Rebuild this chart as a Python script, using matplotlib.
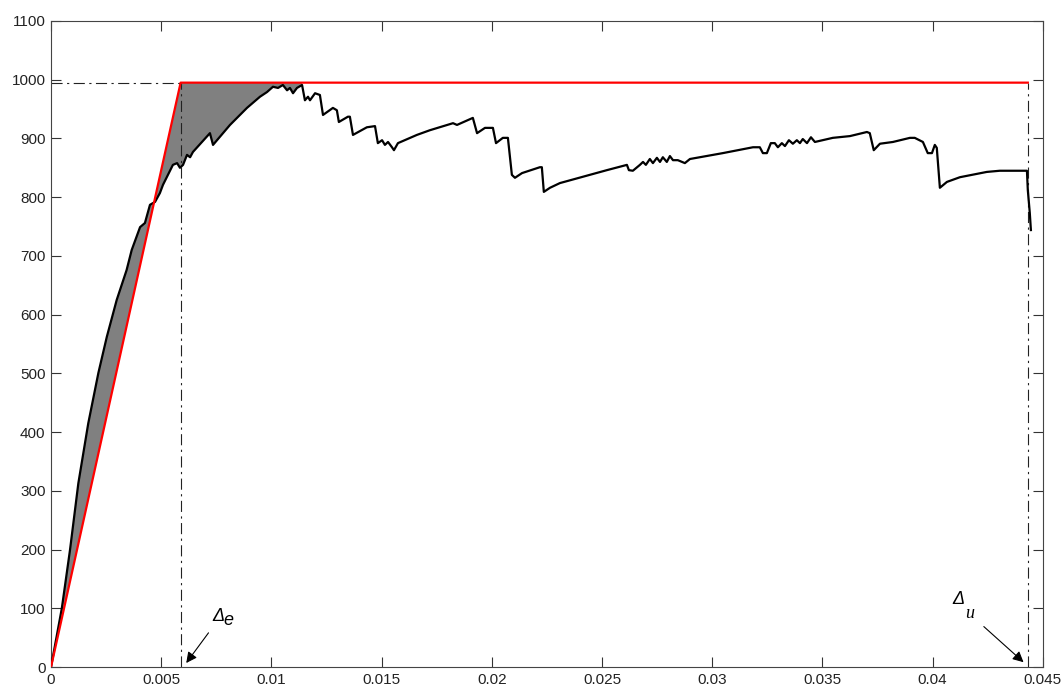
#%%### Imports
import numpy as np
import matplotlib.pyplot as plt

#%%### Data
disp = [
    0.0, 0.00049, 0.00086, 0.00124, 0.00169, 0.00215, 0.00253, 0.00298, 0.00343, 0.00366,
    0.00404, 0.00426, 0.00449, 0.00472, 0.00494, 0.00508, 0.00553, 0.00572, 0.00585, 0.00599,
    0.00617, 0.00631, 0.00644, 0.00721, 0.00735, 0.00753, 0.00812, 0.00889, 0.00948, 0.0098,
    0.01007, 0.0103, 0.01052, 0.01071, 0.01084, 0.01098, 0.01116, 0.01139, 0.01152, 0.01166,
    0.01175, 0.01198, 0.0122, 0.01234, 0.01279, 0.01297, 0.01306, 0.01347, 0.01356, 0.0137,
    0.01433, 0.0147, 0.01483, 0.01502, 0.01515, 0.01529, 0.01547, 0.01556, 0.01574, 0.0166,
    0.01719, 0.01824, 0.01842, 0.01914, 0.01933, 0.01969, 0.02005, 0.02019, 0.0205, 0.02073,
    0.02091, 0.02105, 0.02137, 0.02218, 0.02227, 0.02236, 0.02264, 0.02309, 0.02445, 0.02522,
    0.02613, 0.02622, 0.0264, 0.02672, 0.02686, 0.02699, 0.02717, 0.02731, 0.02749, 0.02763,
    0.02776, 0.02794, 0.02808, 0.02822, 0.02844, 0.02876, 0.02899, 0.03048, 0.03185, 0.03216,
    0.0323, 0.03248, 0.03266, 0.03284, 0.03298, 0.03316, 0.0333, 0.03348, 0.03366, 0.03384,
    0.03398, 0.03411, 0.0343, 0.03448, 0.03466, 0.03547, 0.03625, 0.03702, 0.03715, 0.03733,
    0.03761, 0.0382, 0.03897, 0.03919, 0.03956, 0.03978, 0.03997, 0.0401, 0.04019, 0.04033,
    0.04065, 0.04124, 0.04246, 0.04305, 0.04428, 0.04432, 0.04441, 0.04446,
]
force = [
    0, 100, 199, 313, 415, 501, 562, 625, 676, 710,
    749, 756, 787, 792, 807, 821, 855, 858, 850, 855,
    872, 868, 877, 909, 889, 897, 923, 952, 971, 979,
    988, 986, 991, 982, 986, 977, 986, 991, 965, 971,
    965, 977, 974, 940, 952, 948, 928, 937, 937, 906,
    919, 921, 892, 897, 889, 894, 885, 880, 892, 906,
    914, 926, 923, 935, 909, 918, 918, 892, 901, 901,
    838, 833, 841, 851, 851, 809, 816, 824, 838, 846,
    855, 846, 845, 855, 860, 855, 865, 858, 867, 860,
    868, 860, 870, 863, 863, 858, 865, 875, 885, 885,
    875, 875, 892, 892, 885, 892, 887, 897, 891, 897,
    892, 899, 892, 902, 894, 901, 904, 911, 909, 880,
    891, 894, 901, 901, 894, 875, 875, 889, 884, 816,
    826, 834, 843, 845, 845, 812, 773, 744,
]

## Idealised bilinear envelope
delta_e = 0.00588
delta_u = 0.04432
f_y = 995
env_disp = [0, delta_e, delta_u]
env_force = [0, f_y, f_y]
## End of the shaded area (where the curve touches the envelope)
fill_end = 0.01139

xticks = [0, 0.005, 0.01, 0.015, 0.02, 0.025, 0.03, 0.035, 0.04, 0.045]
xticklabels = ['0', '0.005', '0.01', '0.015', '0.02', '0.025', '0.03', '0.035', '0.04', '0.045']
yticks = list(range(0, 1101, 100))

#%%### Plot
plt.rcParams['font.family'] = ['Liberation Sans', 'DejaVu Sans']
f = plt.figure(figsize=(10.63, 6.88), dpi=100)
ax = f.add_axes([0.048, 0.0305, 0.933, 0.939])

## Shaded area between curve and envelope
xf = np.union1d(np.linspace(0, fill_end, 600), [delta_e])
ax.fill_between(
    xf, np.interp(xf, disp, force), np.interp(xf, env_disp, env_force),
    facecolor='#808080', edgecolor='none', zorder=1,
)

## Guide lines
dashdot = (0, (10, 4, 2, 4))
ax.plot([0, delta_e], [f_y, f_y], color='#222222', lw=0.8, ls=dashdot, zorder=2)
ax.plot([delta_e, delta_e], [0, f_y], color='#222222', lw=0.8, ls=dashdot, zorder=2)
ax.plot([delta_u, delta_u], [0, f_y], color='#222222', lw=0.8, ls=dashdot, zorder=2)

ax.plot(disp, force, color='k', lw=1.6, zorder=3)
ax.plot(env_disp, env_force, color='#ff0000', lw=1.6, zorder=4)

## Annotations
arrow = dict(arrowstyle='-|>', color='k', lw=0.8, mutation_scale=16)
ax.annotate('', xy=(0.00606, 3), xytext=(0.00722, 62), arrowprops=arrow)
ax.text(0.00732, 72, '\u0394', fontsize=13, style='italic', ha='left', va='bottom')
ax.text(0.00784, 64, 'e', fontsize=13, style='italic', ha='left', va='bottom')
ax.annotate('', xy=(0.04422, 5), xytext=(0.04223, 72), arrowprops=arrow)
ax.text(0.0409, 100, '\u0394', fontsize=13, style='italic', ha='left', va='bottom')
ax.text(0.04148, 76, 'u', fontsize=13, style='italic', ha='left', va='bottom',
        family='Liberation Serif')

## Axes styling
ax.set_xlim(0, 0.045)
ax.set_ylim(0, 1100)
ax.set_xticks(xticks)
ax.set_xticklabels(xticklabels)
ax.set_yticks(yticks)
ax.tick_params(
    direction='in', length=7, width=0.8, colors='#333333', labelcolor='#222222',
    labelsize=11, top=True, right=True, pad=4,
)
for s in ax.spines.values():
    s.set_color('#444444')
    s.set_linewidth(0.8)

plt.savefig('out.png', dpi=100)
